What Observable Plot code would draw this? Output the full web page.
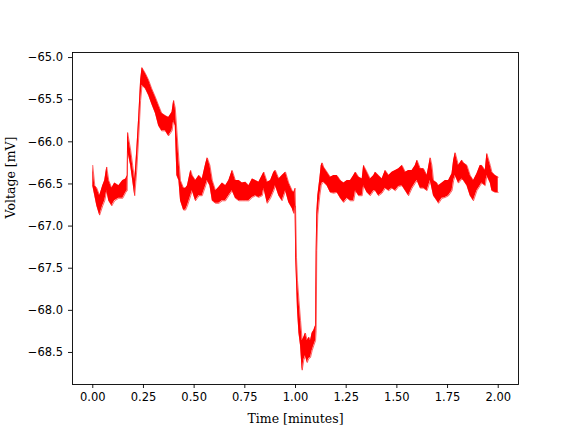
<!DOCTYPE html>
<html>
<head>
<meta charset="utf-8">
<script src="https://cdn.jsdelivr.net/npm/d3@7"></script>
<script src="https://cdn.jsdelivr.net/npm/@observablehq/plot@0.6"></script>
<style>
  html, body { margin: 0; padding: 0; background: #fff; }
</style>
</head>
<body>
<div id="chart"></div>
<script>
// Time (minutes) of each read-off sample
const timeMin = [
  0, 0.010, 0.020, 0.034, 0.049, 0.059, 0.069, 0.079, 0.094, 0.108,
  0.128, 0.148, 0.163, 0.170, 0.172, 0.187, 0.197, 0.207, 0.217, 0.227,
  0.236, 0.243, 0.260, 0.276, 0.291, 0.309, 0.325, 0.340, 0.358, 0.374,
  0.391, 0.399, 0.407, 0.415, 0.425, 0.433, 0.448, 0.458, 0.467, 0.483,
  0.491, 0.507, 0.524, 0.540, 0.557, 0.565, 0.578, 0.590, 0.606, 0.622,
  0.639, 0.655, 0.671, 0.688, 0.704, 0.721, 0.737, 0.754, 0.770, 0.787,
  0.803, 0.819, 0.836, 0.844, 0.861, 0.877, 0.893, 0.901, 0.918, 0.934,
  0.951, 0.967, 0.984, 0.992, 0.998, 1.001, 1.005, 1.010, 1.017, 1.025,
  1.033, 1.041, 1.049, 1.058, 1.066, 1.074, 1.082, 1.090, 1.099, 1.102,
  1.105, 1.110, 1.120, 1.127, 1.132, 1.139, 1.156, 1.172, 1.189, 1.205,
  1.222, 1.238, 1.255, 1.271, 1.287, 1.296, 1.312, 1.329, 1.336, 1.353,
  1.369, 1.386, 1.394, 1.410, 1.427, 1.443, 1.460, 1.476, 1.493, 1.509,
  1.526, 1.542, 1.558, 1.575, 1.591, 1.600, 1.616, 1.632, 1.649, 1.665,
  1.673, 1.681, 1.698, 1.706, 1.723, 1.739, 1.755, 1.772, 1.780, 1.788,
  1.804, 1.821, 1.829, 1.846, 1.862, 1.878, 1.895, 1.911, 1.919, 1.936,
  1.944, 1.961, 1.969, 1.985, 2.000
];
// Upper edge of the noisy voltage trace (mV)
const voltHigh = [
  -66.28, -66.52, -66.55, -66.64, -66.52, -66.46, -66.30, -66.46, -66.55, -66.49,
  -66.52, -66.46, -66.44, -66.40, -65.89, -66.10, -66.28, -66.46, -66.10, -65.69,
  -65.27, -65.12, -65.19, -65.27, -65.37, -65.47, -65.57, -65.66, -65.69, -65.71,
  -65.65, -65.51, -65.60, -65.87, -66.22, -66.46, -66.55, -66.55, -66.52, -66.34,
  -66.40, -66.46, -66.40, -66.44, -66.26, -66.19, -66.28, -66.46, -66.58, -66.54,
  -66.49, -66.52, -66.46, -66.34, -66.46, -66.46, -66.49, -66.48, -66.52, -66.44,
  -66.46, -66.48, -66.40, -66.36, -66.48, -66.46, -66.36, -66.34, -66.44, -66.40,
  -66.36, -66.49, -66.58, -66.60, -66.55, -66.85, -67.37, -67.65, -67.88, -68.12,
  -68.36, -68.32, -68.27, -68.36, -68.32, -68.36, -68.27, -68.24, -68.18, -67.29,
  -66.85, -66.64, -66.44, -66.28, -66.25, -66.30, -66.36, -66.42, -66.40, -66.40,
  -66.46, -66.49, -66.46, -66.46, -66.40, -66.36, -66.42, -66.44, -66.28, -66.36,
  -66.44, -66.40, -66.36, -66.40, -66.44, -66.34, -66.40, -66.36, -66.34, -66.32,
  -66.28, -66.36, -66.34, -66.34, -66.28, -66.22, -66.32, -66.32, -66.40, -66.19,
  -66.28, -66.46, -66.49, -66.52, -66.49, -66.46, -66.46, -66.38, -66.22, -66.13,
  -66.28, -66.22, -66.25, -66.28, -66.40, -66.46, -66.38, -66.28, -66.28, -66.34,
  -66.14, -66.28, -66.36, -66.40, -66.42
];
// Lower edge of the noisy voltage trace (mV)
const voltLow = [
  -66.52, -66.64, -66.76, -66.87, -66.76, -66.70, -66.58, -66.70, -66.76, -66.70,
  -66.67, -66.67, -66.60, -66.58, -66.10, -66.28, -66.46, -66.64, -66.34, -65.93,
  -65.51, -65.33, -65.37, -65.45, -65.55, -65.66, -65.81, -65.87, -65.87, -65.93,
  -65.87, -65.75, -65.81, -66.40, -66.46, -66.70, -66.81, -66.81, -66.76, -66.64,
  -66.58, -66.70, -66.64, -66.64, -66.52, -66.46, -66.52, -66.70, -66.73, -66.73,
  -66.70, -66.70, -66.64, -66.58, -66.67, -66.70, -66.70, -66.70, -66.70, -66.66,
  -66.64, -66.66, -66.64, -66.55, -66.73, -66.67, -66.58, -66.52, -66.64, -66.70,
  -66.58, -66.72, -66.79, -66.85, -66.76, -67.37, -67.65, -68.00, -68.27, -68.42,
  -68.71, -68.59, -68.54, -68.62, -68.57, -68.56, -68.48, -68.42, -68.36, -68.24,
  -67.29, -66.87, -66.64, -66.52, -66.49, -66.48, -66.52, -66.60, -66.61, -66.60,
  -66.67, -66.72, -66.67, -66.70, -66.70, -66.58, -66.64, -66.64, -66.52, -66.60,
  -66.64, -66.58, -66.58, -66.64, -66.61, -66.55, -66.58, -66.55, -66.58, -66.53,
  -66.52, -66.58, -66.64, -66.55, -66.49, -66.46, -66.55, -66.55, -66.58, -66.46,
  -66.55, -66.64, -66.70, -66.73, -66.67, -66.66, -66.64, -66.58, -66.46, -66.40,
  -66.49, -66.44, -66.46, -66.52, -66.64, -66.70, -66.58, -66.52, -66.49, -66.52,
  -66.40, -66.49, -66.58, -66.60, -66.60
];
const xTicks = [0, 0.25, 0.5, 0.75, 1.0, 1.25, 1.5, 1.75, 2.0];
const yTicks = [-65.0, -65.5, -66.0, -66.5, -67.0, -67.5, -68.0, -68.5];
const xLabel = "Time [minutes]";
const yLabel = "Voltage [mV]";

const rows = timeMin.map((t, i) => ({t, hi: voltHigh[i], lo: voltLow[i]}));

const chart = Plot.plot({
  width: 576,
  height: 432,
  marginLeft: 72,
  marginRight: 58,
  marginTop: 52,
  marginBottom: 48,
  style: {fontFamily: "'DejaVu Sans', sans-serif", fontSize: "11.5px", background: "#fff", color: "#000", overflow: "visible"},
  x: {domain: [-0.1, 2.1]},
  y: {domain: [-68.88, -64.94]},
  marks: [
    Plot.areaY(rows, {x: "t", y1: "lo", y2: "hi", fill: "#ff0000", fillOpacity: 1}),
    Plot.line(rows, {x: "t", y: "hi", stroke: "#ff0000", strokeWidth: 0.6}),
    Plot.line(rows, {x: "t", y: "lo", stroke: "#ff0000", strokeWidth: 0.6}),
    Plot.frame({stroke: "#000", strokeWidth: 0.9}),
    Plot.axisX({ticks: xTicks, tickFormat: d3.format(".2f"), tickSize: 4, tickPadding: 4.5, strokeWidth: 0.9, label: null, fontSize: 11.5}),
    Plot.axisY({ticks: yTicks, tickFormat: d3.format(".1f"), tickSize: 4, tickPadding: 5.5, strokeWidth: 0.9, label: null, fontSize: 11.5}),
    Plot.text([xLabel], {frameAnchor: "bottom", dy: 38, text: d => d, fontFamily: "'DejaVu Serif', serif", fontSize: 12.5, fill: "#000"}),
    Plot.text([yLabel], {frameAnchor: "left", dx: -62, rotate: -90, text: d => d, fontFamily: "'DejaVu Serif', serif", fontSize: 12.5, fill: "#000"})
  ]
});
document.getElementById("chart").appendChild(chart);
</script>
</body>
</html>
